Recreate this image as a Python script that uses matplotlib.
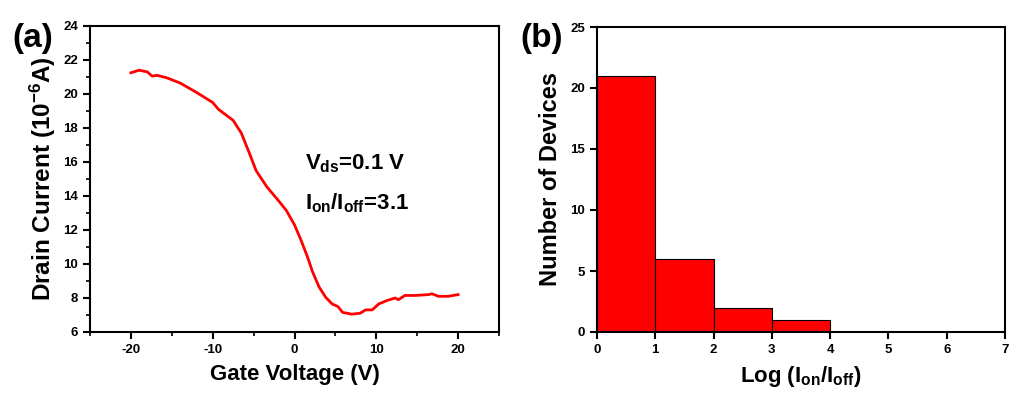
import numpy as np
import matplotlib
matplotlib.use('Agg')
import matplotlib.pyplot as plt
from matplotlib.ticker import MultipleLocator

plt.rcParams['font.family'] = 'Liberation Sans'
plt.rcParams['font.weight'] = 'bold'
plt.rcParams['axes.unicode_minus'] = False
plt.rcParams['mathtext.fontset'] = 'custom'
plt.rcParams['mathtext.rm'] = 'Liberation Sans:bold'
plt.rcParams['mathtext.it'] = 'Liberation Sans:bold'
plt.rcParams['mathtext.bf'] = 'Liberation Sans:bold'

## Data
# (a) transfer curve
gate_v = [-20, -19, -18, -17.4, -16.8, -15.6, -14, -12, -10, -9.3, -7.5, -6.5,
          -5.5, -4.7, -3.4, -2, -1, 0, 0.8, 1.6, 2.2, 3, 3.8, 4.6, 5.3, 5.9,
          7, 8, 8.7, 9.5, 10.3, 11.3, 12.3, 12.7, 13.5, 14.8, 16.4, 16.8,
          17.6, 18.8, 20]
drain_i = [21.25, 21.4, 21.3, 21.05, 21.1, 20.95, 20.65, 20.1, 19.5, 19.1,
           18.45, 17.7, 16.5, 15.5, 14.55, 13.75, 13.15, 12.3, 11.4, 10.4,
           9.55, 8.65, 8.05, 7.65, 7.5, 7.15, 7.05, 7.1, 7.3, 7.3, 7.65, 7.85,
           8.0, 7.9, 8.15, 8.15, 8.2, 8.25, 8.1, 8.1, 8.2]

# (b) histogram of log on/off ratio
bin_edges = [0, 1, 2, 3, 4]
n_devices = [21, 6, 2, 1]

## Plotting
fig = plt.figure(figsize=(10.11, 3.96), dpi=100)
ax1 = fig.add_axes([90/1011, 1 - 332/396, 409/1011, 306/396])
ax2 = fig.add_axes([597/1011, 1 - 332/396, 408/1011, 305/396])

red = '#ff0000'
ax1.plot(gate_v, drain_i, color=red, lw=2)
ax1.set_xlim(-25, 25)
ax1.set_ylim(6, 24)
ax1.xaxis.set_major_locator(MultipleLocator(10))
ax1.xaxis.set_minor_locator(MultipleLocator(5))
ax1.yaxis.set_major_locator(MultipleLocator(2))
ax1.yaxis.set_minor_locator(MultipleLocator(1))
ax1.set_xlabel('Gate Voltage (V)', fontsize=16, fontweight='bold', labelpad=6)
ax1.set_ylabel('Drain Current (10$^{-6}$A)', fontsize=17.5, fontweight='bold', labelpad=4)
ax1.text(1.3, 15.9, '$V_{ds}$=0.1 V', fontsize=16, va='center')
ax1.text(1.3, 13.6, '$I_{on}$/$I_{off}$=3.1', fontsize=16, va='center')
fig.text(12/1011, 1 - 38/396, '(a)', fontsize=24, fontweight='bold', va='center')

widths = np.diff(bin_edges)
ax2.bar(bin_edges[:-1], n_devices, width=widths, align='edge',
        color=red, edgecolor='black', linewidth=0.8)
ax2.set_xlim(0, 7)
ax2.set_ylim(0, 25)
ax2.xaxis.set_major_locator(MultipleLocator(1))
ax2.yaxis.set_major_locator(MultipleLocator(5))
ax2.set_xlabel('Log ($I_{on}$/$I_{off}$)', fontsize=16, fontweight='bold', labelpad=6)
ax2.set_ylabel('Number of Devices', fontsize=17, fontweight='bold', labelpad=6)
fig.text(520/1011, 1 - 38/396, '(b)', fontsize=24, fontweight='bold', va='center')

for ax in (ax1, ax2):
    for sp in ax.spines.values():
        sp.set_linewidth(1.5)
    ax.tick_params(axis='both', which='major', direction='out', length=5,
                   width=1.5, labelsize=9.5, top=False, right=False)
    ax.tick_params(axis='both', which='minor', direction='out', length=3,
                   width=1.2, top=False, right=False)
    for lbl in ax.get_xticklabels() + ax.get_yticklabels():
        lbl.set_fontweight('bold')

fig.savefig('out.png', dpi=100)
